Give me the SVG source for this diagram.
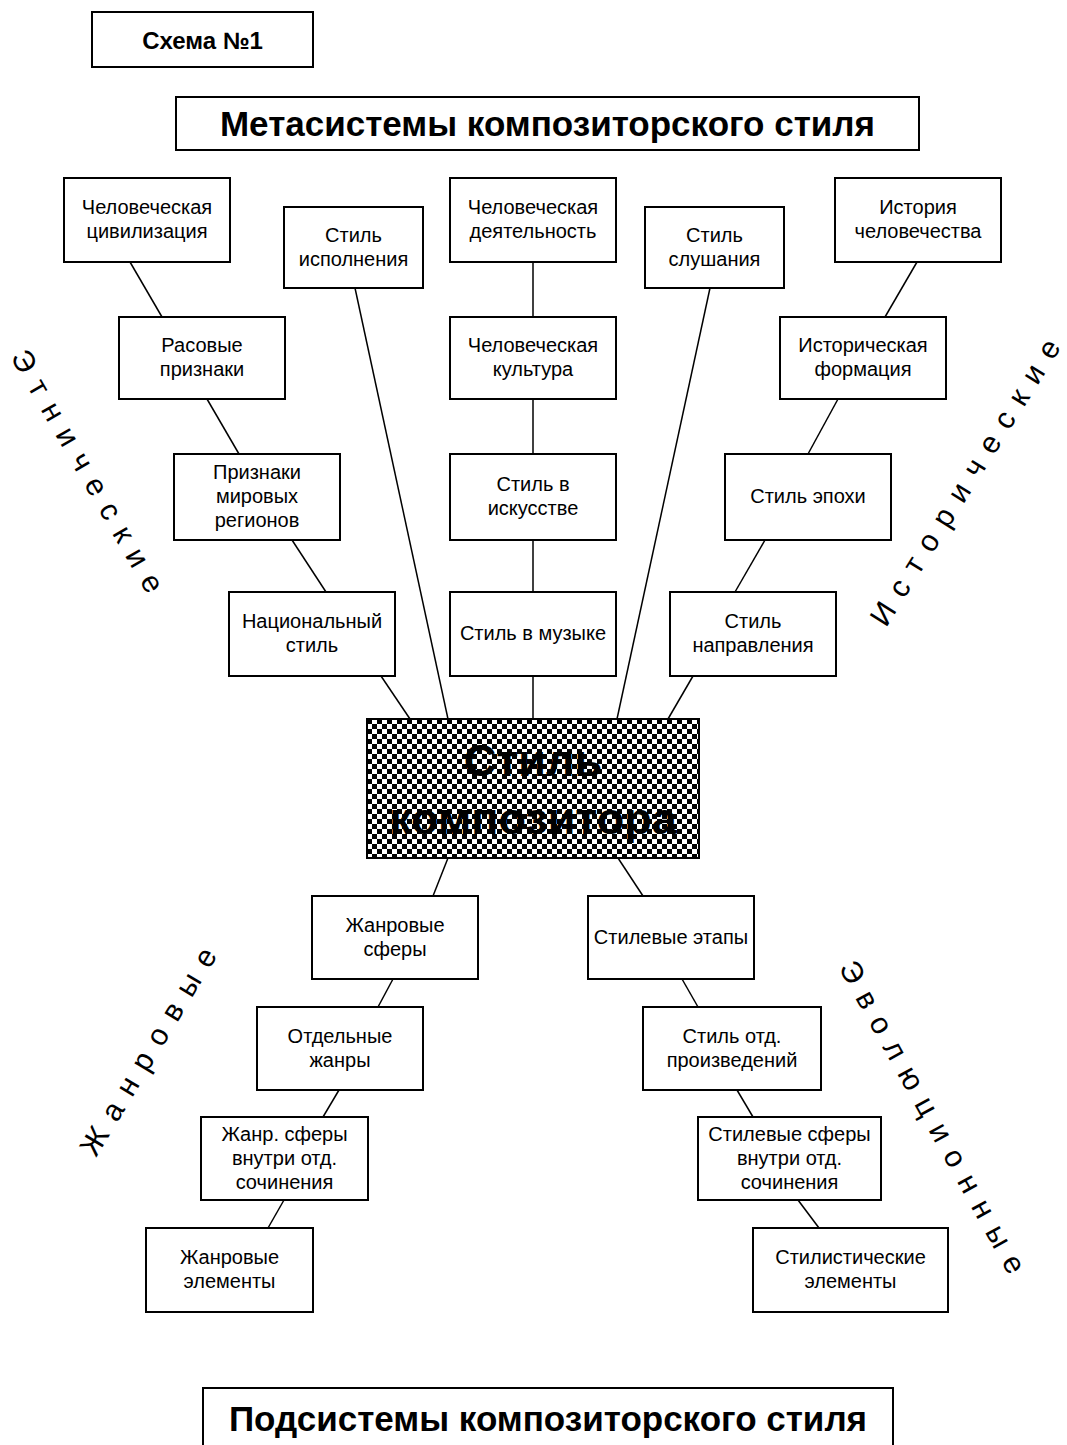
<svg xmlns="http://www.w3.org/2000/svg" width="1067" height="1445" viewBox="0 0 1067 1445">
<defs>
<pattern id="chk" x="367" y="719" width="10" height="10" patternUnits="userSpaceOnUse">
<rect width="10" height="10" fill="#fff"/>
<rect width="5" height="5" fill="#000"/>
<rect x="5" y="5" width="5" height="5" fill="#000"/>
</pattern>
</defs>
<style>
.b{fill:#fff;stroke:#000;stroke-width:2}
.t{font-family:"Liberation Sans",Arial,sans-serif;font-size:20px;text-anchor:middle;fill:#000}
.h{font-family:"Liberation Sans",Arial,sans-serif;font-weight:bold;text-anchor:middle;fill:#000}
.r{font-family:"Liberation Sans",Arial,sans-serif;font-size:30px;letter-spacing:12.5px;text-anchor:middle;dominant-baseline:central;fill:#000}
.c line{stroke:#000;stroke-width:1.5}
</style>
<rect width="1067" height="1445" fill="#fff"/>
<g class="c" id="connectors">
<line x1="130" y1="262" x2="162" y2="317"/>
<line x1="207" y1="399" x2="239" y2="454"/>
<line x1="292" y1="540" x2="326" y2="592"/>
<line x1="381" y1="676" x2="410" y2="719"/>
<line x1="355" y1="288" x2="448" y2="719"/>
<line x1="533" y1="262" x2="533" y2="317"/>
<line x1="533" y1="399" x2="533" y2="454"/>
<line x1="533" y1="540" x2="533" y2="592"/>
<line x1="533" y1="676" x2="533" y2="719"/>
<line x1="710" y1="288" x2="617" y2="719"/>
<line x1="917" y1="262" x2="885" y2="317"/>
<line x1="838" y1="399" x2="808" y2="454"/>
<line x1="765" y1="540" x2="735" y2="592"/>
<line x1="693" y1="676" x2="668" y2="719"/>
<line x1="448" y1="858" x2="433" y2="896"/>
<line x1="393" y1="979" x2="378" y2="1007"/>
<line x1="339" y1="1090" x2="323" y2="1117"/>
<line x1="284" y1="1200" x2="268" y2="1228"/>
<line x1="618" y1="858" x2="643" y2="896"/>
<line x1="682" y1="979" x2="698" y2="1007"/>
<line x1="737" y1="1090" x2="753" y2="1117"/>
<line x1="798" y1="1200" x2="819" y2="1228"/>
</g>
<g id="title1"><rect class="b" x="92" y="12" width="221" height="55"/><text class="h" x="202.5" y="48.5" font-size="24">Схема №1</text></g>
<g id="title-meta"><rect class="b" x="176" y="97" width="743" height="53"/><text class="h" x="547.5" y="136" font-size="35">Метасистемы композиторского стиля</text></g>
<g id="n-civ"><rect class="b" x="64" y="178" width="166" height="84"/><text class="t" x="147" y="214">Человеческая</text><text class="t" x="147" y="238">цивилизация</text></g>
<g id="n-perf"><rect class="b" x="284" y="207" width="139" height="81"/><text class="t" x="353.5" y="241.5">Стиль</text><text class="t" x="353.5" y="265.5">исполнения</text></g>
<g id="n-act"><rect class="b" x="450" y="178" width="166" height="84"/><text class="t" x="533" y="214">Человеческая</text><text class="t" x="533" y="238">деятельность</text></g>
<g id="n-listen"><rect class="b" x="645" y="207" width="139" height="81"/><text class="t" x="714.5" y="241.5">Стиль</text><text class="t" x="714.5" y="265.5">слушания</text></g>
<g id="n-hist"><rect class="b" x="835" y="178" width="166" height="84"/><text class="t" x="918" y="214">История</text><text class="t" x="918" y="238">человечества</text></g>
<g id="n-race"><rect class="b" x="119" y="317" width="166" height="82"/><text class="t" x="202" y="352">Расовые</text><text class="t" x="202" y="376">признаки</text></g>
<g id="n-cult"><rect class="b" x="450" y="317" width="166" height="82"/><text class="t" x="533" y="352">Человеческая</text><text class="t" x="533" y="376">культура</text></g>
<g id="n-form"><rect class="b" x="780" y="317" width="166" height="82"/><text class="t" x="863" y="352">Историческая</text><text class="t" x="863" y="376">формация</text></g>
<g id="n-reg"><rect class="b" x="174" y="454" width="166" height="86"/><text class="t" x="257" y="479">Признаки</text><text class="t" x="257" y="503">мировых</text><text class="t" x="257" y="527">регионов</text></g>
<g id="n-art"><rect class="b" x="450" y="454" width="166" height="86"/><text class="t" x="533" y="491">Стиль в</text><text class="t" x="533" y="515">искусстве</text></g>
<g id="n-epoch"><rect class="b" x="725" y="454" width="166" height="86"/><text class="t" x="808" y="503">Стиль эпохи</text></g>
<g id="n-nat"><rect class="b" x="229" y="592" width="166" height="84"/><text class="t" x="312" y="628">Национальный</text><text class="t" x="312" y="652">стиль</text></g>
<g id="n-music"><rect class="b" x="450" y="592" width="166" height="84"/><text class="t" x="533" y="640">Стиль в музыке</text></g>
<g id="n-dir"><rect class="b" x="670" y="592" width="166" height="84"/><text class="t" x="753" y="628">Стиль</text><text class="t" x="753" y="652">направления</text></g>
<g id="n-center"><rect x="367" y="719" width="332" height="139" fill="url(#chk)" stroke="#000" stroke-width="2"/><text class="h" x="533" y="776" font-size="45">Стиль</text><text class="h" x="533" y="834" font-size="45">композитора</text></g>
<g id="n-gsph"><rect class="b" x="312" y="896" width="166" height="83"/><text class="t" x="395" y="931.5">Жанровые</text><text class="t" x="395" y="955.5">сферы</text></g>
<g id="n-stages"><rect class="b" x="588" y="896" width="166" height="83"/><text class="t" x="671" y="943.5">Стилевые этапы</text></g>
<g id="n-genres"><rect class="b" x="257" y="1007" width="166" height="83"/><text class="t" x="340" y="1042.5">Отдельные</text><text class="t" x="340" y="1066.5">жанры</text></g>
<g id="n-works"><rect class="b" x="643" y="1007" width="178" height="83"/><text class="t" x="732" y="1042.5">Стиль отд.</text><text class="t" x="732" y="1066.5">произведений</text></g>
<g id="n-gin"><rect class="b" x="201" y="1117" width="167" height="83"/><text class="t" x="284.5" y="1140.5">Жанр. сферы</text><text class="t" x="284.5" y="1164.5">внутри отд.</text><text class="t" x="284.5" y="1188.5">сочинения</text></g>
<g id="n-sin"><rect class="b" x="698" y="1117" width="183" height="83"/><text class="t" x="789.5" y="1140.5">Стилевые сферы</text><text class="t" x="789.5" y="1164.5">внутри отд.</text><text class="t" x="789.5" y="1188.5">сочинения</text></g>
<g id="n-gel"><rect class="b" x="146" y="1228" width="167" height="84"/><text class="t" x="229.5" y="1264">Жанровые</text><text class="t" x="229.5" y="1288">элементы</text></g>
<g id="n-sel"><rect class="b" x="753" y="1228" width="195" height="84"/><text class="t" x="850.5" y="1264">Стилистические</text><text class="t" x="850.5" y="1288">элементы</text></g>
<g id="title-sub"><rect class="b" x="203" y="1388" width="690" height="70"/><text class="h" x="548" y="1431" font-size="35">Подсистемы композиторского стиля</text></g>
<g id="labels">
<text class="r" transform="translate(88 471) rotate(60)" x="6" y="0">Этнические</text>
<text class="r" transform="translate(965 482) rotate(-58)" x="6" y="0">Исторические</text>
<text class="r" transform="translate(148 1051) rotate(-59)" x="6" y="0">Жанровые</text>
<text class="r" transform="translate(933 1117) rotate(61)" x="6" y="0">Эволюционные</text>
</g>
</svg>
